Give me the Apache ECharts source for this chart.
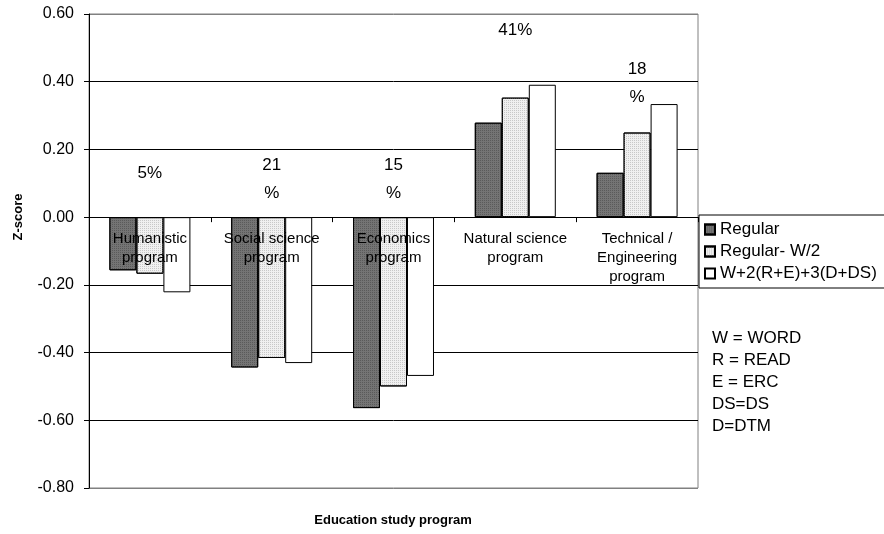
<!DOCTYPE html>
<html>
<head>
<meta charset="utf-8">
<script src="https://cdn.jsdelivr.net/npm/echarts@6/dist/echarts.min.js"></script>
<style>
  html, body { margin: 0; padding: 0; background: #fff; }
  #chart { width: 884px; height: 534px; }
</style>
</head>
<body>
<div id="chart"></div>
<script>
// Study programs on the x axis
const categories = [
  'Humanistic\nprogram',
  'Social science\nprogram',
  'Economics\nprogram',
  'Natural science\nprogram',
  'Technical /\nEngineering\nprogram'
];

// Mean Z-scores per program for each scoring method
const seriesNames = ['Regular', 'Regular- W/2', 'W+2(R+E)+3(D+DS)'];
const regular      = [-0.157, -0.444, -0.564, 0.279, 0.131];
const regularHalfW = [-0.167, -0.416, -0.500, 0.353, 0.250];
const weighted     = [-0.222, -0.431, -0.469, 0.391, 0.334];

// Share of students in each program
const shareLabels = ['5%', '21\n%', '15\n%', '41%', '18\n%'];

// Y axis ticks
const yTicks = [-0.8, -0.6, -0.4, -0.2, 0.0, 0.2, 0.4, 0.6];

// Abbreviation key
const keyLines = ['W = WORD', 'R = READ', 'E = ERC', 'DS=DS', 'D=DTM'];

const FONT = '"Liberation Sans", Arial, sans-serif';

// Vertical placement of the share labels inside the plot (in axis units)
const shareLabelLevel = [0.13, 0.112, 0.112, 0.552, 0.394];

const chart = echarts.init(document.getElementById('chart'), null, { renderer: 'canvas' });

// fine dot texture used on the shaded bars
const dots = (color) => ({
  symbol: 'rect', symbolSize: 1, color,
  dashArrayX: [1, 1], dashArrayY: [1, 1], rotation: 0
});

const barStyle = (fill, decal) => ({
  type: 'bar',
  barGap: '0%',
  barCategoryGap: '33.5%',
  itemStyle: Object.assign({ color: fill, borderColor: '#000', borderWidth: 1 }, decal ? { decal } : {}),
  emphasis: { disabled: true }
});

// invisible point series used only to carry text labels
const textSeries = (data, label) => ({
  type: 'scatter',
  symbolSize: 1,
  itemStyle: { color: 'rgba(0,0,0,0)', opacity: 1 },
  silent: true,
  z: 5,
  emphasis: { disabled: true },
  data,
  label: Object.assign({
    show: true, fontFamily: FONT, fontSize: 17, color: '#000', align: 'center', opacity: 1
  }, label)
});

const option = {
  animation: false,
  textStyle: { fontFamily: FONT },
  grid: {
    left: 89, right: 186, top: 14, bottom: 46,
    show: true, borderColor: '#808080', borderWidth: 1, backgroundColor: 'transparent'
  },
  legend: {
    data: seriesNames,
    orient: 'vertical',
    left: 699, top: 215,
    itemWidth: 10, itemHeight: 10, itemGap: 5,
    padding: [6, 40, 6, 5],
    borderColor: '#000', borderWidth: 1,
    icon: 'rect',
    textStyle: { fontFamily: FONT, fontSize: 17, lineHeight: 17, color: '#000' }
  },
  xAxis: {
    type: 'category',
    data: categories,
    axisLine: { onZero: true, lineStyle: { color: '#000', width: 1 } },
    axisTick: { show: true, inside: false, length: 5, lineStyle: { color: '#000' } },
    axisLabel: { show: false },
    splitLine: { show: false }
  },
  yAxis: {
    type: 'value',
    min: -0.8, max: 0.6, interval: 0.2,
    axisLine: { show: true, lineStyle: { color: '#000' } },
    axisTick: { show: true, length: 5, lineStyle: { color: '#000' } },
    axisLabel: {
      margin: 15, fontFamily: FONT, fontSize: 16, color: '#000',
      formatter: (v) => v.toFixed(2)
    },
    splitLine: {
      show: true,
      lineStyle: {
        color: yTicks.map((t, i) => (i === 0 || i === yTicks.length - 1) ? '#808080' : '#000'),
        width: 1
      }
    }
  },
  series: [
    Object.assign(barStyle('#747474', dots('#5a5a5a')), { name: seriesNames[0], data: regular }),
    Object.assign(barStyle('#f0f0f0', dots('#c8c8c8')), { name: seriesNames[1], data: regularHalfW }),
    Object.assign(barStyle('#ffffff'), { name: seriesNames[2], data: weighted }),
    // share of students above each group
    Object.assign(textSeries(
      shareLabels.map((s, i) => ({ value: [i, shareLabelLevel[i]], label: { formatter: s } })),
      { position: 'inside', lineHeight: 28 }
    ), { name: 'share' }),
    // category names just below the zero line
    Object.assign(textSeries(
      categories.map((c, i) => ({ value: [i, 0], label: { formatter: c } })),
      { position: 'bottom', distance: 12, fontSize: 15, lineHeight: 19 }
    ), { name: 'program' })
  ],
  graphic: [
    {
      type: 'text', x: 393, y: 520,
      style: {
        text: 'Education study program', textAlign: 'center', textVerticalAlign: 'middle',
        font: 'bold 13px ' + FONT, fill: '#000'
      }
    },
    {
      // y axis title
      type: 'text', x: 18, y: 217, rotation: Math.PI / 2,
      style: {
        text: 'Z-score', textAlign: 'center', textVerticalAlign: 'middle',
        font: 'bold 13px ' + FONT, fill: '#000'
      }
    },
    {
      type: 'text', x: 712, y: 327,
      style: {
        text: keyLines.join('\n'), textAlign: 'left', textVerticalAlign: 'top',
        font: '17px ' + FONT, fill: '#000', lineHeight: 22
      }
    }
  ]
};

chart.setOption(option);
</script>
</body>
</html>
